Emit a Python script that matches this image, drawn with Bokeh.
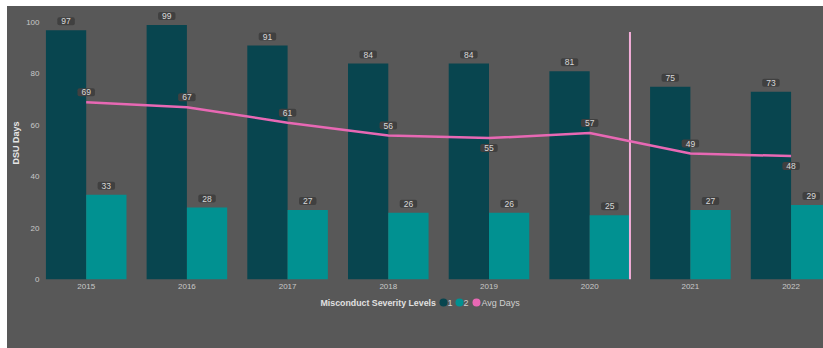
from bokeh.plotting import figure
from bokeh.models import ColumnDataSource, FixedTicker, Range1d
from bokeh.layouts import column
from bokeh.transform import dodge
from bokeh.core.properties import value
from bokeh.embed import file_html
from bokeh.resources import INLINE

years = ["2015", "2016", "2017", "2018", "2019", "2020", "2021", "2022"]
level1 = [97, 99, 91, 84, 84, 81, 75, 73]
level2 = [33, 28, 27, 26, 26, 25, 27, 29]
avg_days = [69, 67, 61, 56, 55, 57, 49, 48]
avg_label_side = ["above", "above", "above", "above", "below", "above", "above", "below"]
divider_x = 5.4
divider_top = 96.3
y_ticks = [0, 20, 40, 60, 80, 100]
legend_title = "Misconduct Severity Levels"
legend_names = ["1", "2", "Avg Days"]

BG = "#585858"
C1 = "#08454F"
C2 = "#019191"
PINK = "#E868B4"
LBL_BG = "#404040"
LBL_TXT = "#D8D8D8"
FONT = "Liberation Sans"

idx = list(range(len(years)))
src = ColumnDataSource(dict(
    x=idx, years=years, l1=level1, l2=level2, avg=avg_days,
    l1_txt=[str(v) for v in level1], l2_txt=[str(v) for v in level2],
    avg_txt=[str(v) for v in avg_days],
    avg_off=[-10 if s == "above" else 10 for s in avg_label_side],
))

p = figure(width=816, height=289, output_backend="svg", toolbar_location=None,
           x_range=Range1d(-0.434, 7.322), y_range=Range1d(0, 106.2),
           min_border_left=35, min_border_right=0, min_border_top=0, min_border_bottom=16)
p.background_fill_color = BG
p.border_fill_color = BG
p.outline_line_color = None
p.grid.visible = False

bw = 0.4
p.vbar(x=dodge("x", -bw / 2, range=p.x_range), top="l1", width=bw, source=src,
       fill_color=C1, line_color=None)
p.vbar(x=dodge("x", bw / 2, range=p.x_range), top="l2", width=bw, source=src,
       fill_color=C2, line_color=None)
p.segment(x0=[divider_x], y0=[0], x1=[divider_x], y1=[divider_top],
          line_color="#F4AEDA", line_width=2)
p.line(x="x", y="avg", source=src, line_color=PINK, line_width=2.5)

common = dict(text_align="center", text_baseline="middle", text_font=value(FONT),
              text_font_size="8.5px", text_color=LBL_TXT,
              background_fill_color=LBL_BG, padding=(4, 1), border_radius=2)
p.text(x=dodge("x", -bw / 2, range=p.x_range), y="l1", text="l1_txt", source=src,
       y_offset=-9, **common)
p.text(x=dodge("x", bw / 2, range=p.x_range), y="l2", text="l2_txt", source=src,
       y_offset=-9, **common)
p.text(x="x", y="avg", text="avg_txt", source=src, y_offset="avg_off", **common)

xa = p.xaxis[0]
xa.ticker = FixedTicker(ticks=idx)
xa.major_label_overrides = {i: y for i, y in zip(idx, years)}
ya = p.yaxis[0]
ya.ticker = FixedTicker(ticks=y_ticks)
ya.axis_label = "DSU Days"
ya.axis_label_text_font = FONT
ya.axis_label_text_font_style = "bold"
ya.axis_label_text_font_size = "9px"
ya.axis_label_text_color = "#E6E6E6"
ya.axis_label_standoff = 2
for ax in (xa, ya):
    ax.axis_line_color = None
    ax.major_tick_line_color = None
    ax.minor_tick_line_color = None
    ax.major_tick_out = 0
    ax.major_tick_in = 0
    ax.minor_tick_out = 0
    ax.minor_tick_in = 0
    ax.major_label_text_font = FONT
    ax.major_label_text_font_size = "8px"
    ax.major_label_text_color = "#C8C8C8"
xa.major_label_standoff = 4
ya.major_label_standoff = 3

# legend strip (frame at page x 42..823)
leg = figure(width=816, height=53, output_backend="svg", toolbar_location=None,
             x_range=Range1d(42, 823), y_range=Range1d(0, 53),
             x_axis_location=None, y_axis_location=None,
             min_border_left=35, min_border_right=0,
             min_border_top=0, min_border_bottom=0)
leg.background_fill_color = BG
leg.border_fill_color = BG
leg.outline_line_color = None
leg.grid.visible = False
ly = 46
leg.text(x=[320], y=[ly], text=[legend_title], text_font=value(FONT),
         text_font_style="bold", text_font_size="8.8px", text_color="#E0E0E0",
         text_align="left", text_baseline="middle")
leg.scatter(x=[443, 459, 476], y=[ly] * 3, size=8, marker="circle",
            fill_color=[C1, C2, PINK], line_color=None)
leg.text(x=[447, 463, 481], y=[ly] * 3, text=legend_names, text_font=value(FONT),
         text_font_size="9px", text_color="#D0D0D0",
         text_align="left", text_baseline="middle")

layout = column(p, leg, spacing=0, margin=(6, 0, 0, 7),
                styles={"background-color": BG})
open("out.html", "w").write(file_html(layout, INLINE))
